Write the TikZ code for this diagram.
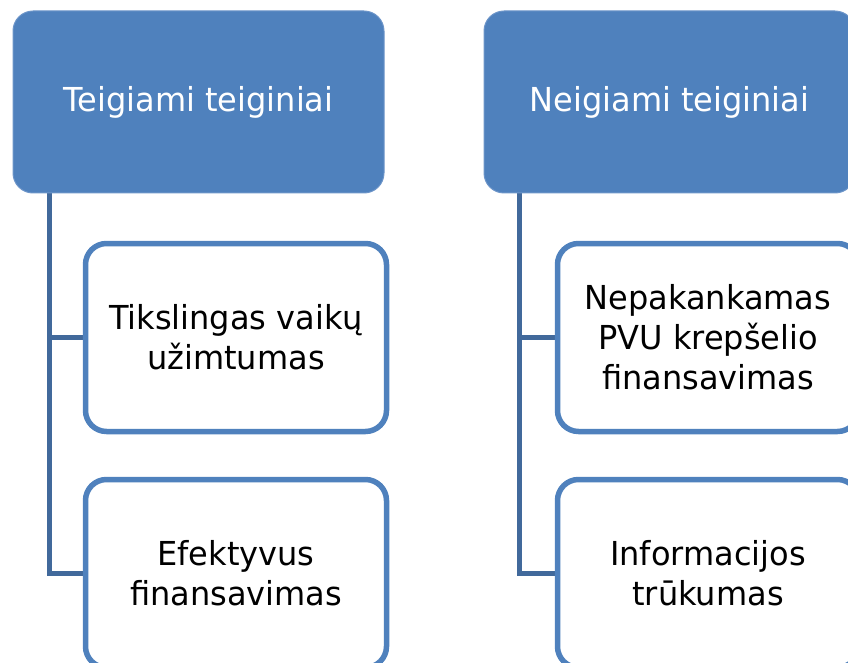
\documentclass[tikz,border=0pt]{standalone}
\usepackage{fontspec}
\setmainfont{DejaVu Sans}[FakeStretch=0.97]
\usetikzlibrary{positioning}
\pgfdeclarelayer{bg}
\pgfsetlayers{bg,main}
\definecolor{hdrfill}{HTML}{4F81BD}
\definecolor{hdrline}{HTML}{6D95C9}
\definecolor{boxline}{HTML}{4F81BD}
\definecolor{connline}{HTML}{41699B}
\tikzset{
  hdrbox/.style={draw=hdrline, line width=1pt, fill=hdrfill, rounded corners=20pt,
    minimum width=371pt, minimum height=182pt, inner sep=0pt,
    text=white, font=\fontsize{33}{40}\selectfont, align=center},
  childbox/.style={draw=boxline, line width=5.5pt, fill=white, rounded corners=21pt,
    minimum width=301pt, minimum height=188pt, inner sep=0pt,
    text=black, font=\fontsize{33}{40}\selectfont, align=center},
  conn/.style={draw=connline, line width=5pt}
}
\begin{document}
\begin{tikzpicture}[x=1pt,y=1pt]
\useasboundingbox (0,0) rectangle (848,-663);
\clip (0,0) rectangle (848,-663);
\node[hdrbox] (h1) at (198.5,-102) {Teigiami teiginiai};
\node[hdrbox] (h2) at (669.5,-102) {Neigiami teiginiai};
\node[childbox] (a1) at (236,-337.5) {Tikslingas vaikų\\užimtumas};
\node[childbox] (a2) at (236,-573.5) {Efektyvus\\finansavimas};
\node[childbox] (b1) at (708,-337.5) {Nepakankamas\\PVU krepšelio\\finansavimas};
\node[childbox] (b2) at (708,-573.5) {Informacijos\\trūkumas};
\coordinate (c1) at (49,0);
\coordinate (c2) at (519,0);
\begin{pgfonlayer}{bg}
\draw[conn] (h1.south -| c1) |- (a1.west);
\draw[conn] (h1.south -| c1) |- (a2.west);
\draw[conn] (h2.south -| c2) |- (b1.west);
\draw[conn] (h2.south -| c2) |- (b2.west);
\end{pgfonlayer}
\end{tikzpicture}
\end{document}
